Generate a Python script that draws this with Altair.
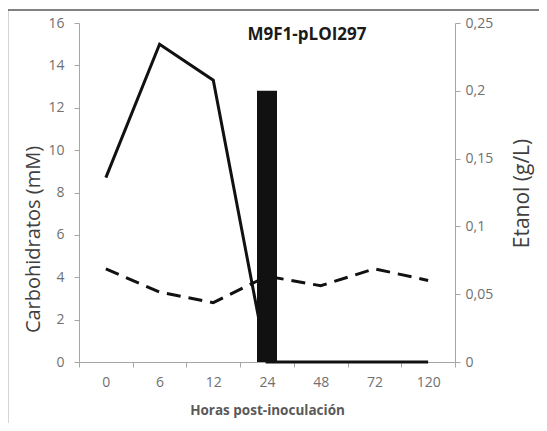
import altair as alt
import pandas as pd

# ---- data ----
horas = ["0", "6", "12", "24", "48", "72", "120"]
carb_solida = [8.7, 15.0, 13.3, 0, 0, 0, 0]
carb_discontinua = [4.4, 3.3, 2.8, 4.05, 3.6, 4.4, 3.85]
etanol = [0, 0, 0, 0.2, 0, 0, 0]
left_ticks = [0, 2, 4, 6, 8, 10, 12, 14, 16]
right_ticks = [0, 0.05, 0.1, 0.15, 0.2, 0.25]
titulo = "M9F1-pLOI297"

df = pd.DataFrame({"hora": horas, "solida": carb_solida,
                   "disc": carb_discontinua, "etanol": etanol})
one = pd.DataFrame({"k": [0]})

FONT = "Open Sans"
AX = "#a6a6a6"
LAB = "#707070"
TIT = "#404040"
W, H = 376, 339

x_enc = alt.X(
    "hora:N", sort=horas,
    scale=alt.Scale(paddingInner=0, paddingOuter=0),
    axis=alt.Axis(title="Horas post-inoculación", labelAngle=0, tickBand="extent",
                  domainColor=AX, tickColor=AX, tickSize=5, labelPadding=8,
                  labelColor=LAB, labelFont=FONT, labelFontSize=14,
                  titleFont=FONT, titleFontSize=13.5, titleFontWeight="bold",
                  titleColor="#595959", titleY=48, titleBaseline="middle"),
)

left_axis = alt.Axis(orient="left", values=left_ticks, grid=False, tickSize=5,
                     domainColor=AX, tickColor=AX, labelPadding=10,
                     labelColor=LAB, labelFont=FONT, labelFontSize=14,
                     title="Carbohidratos (mM)", titleFont=FONT, titleFontSize=20,
                     titleFontWeight="normal", titleColor=TIT, titleAngle=270,
                     titleX=-40, titleY=216, titleAlign="center",
                     titleBaseline="alphabetic")
y_left = alt.Scale(domain=[0, 16], nice=False)

line_solid = alt.Chart(df).mark_line(color="#111111", strokeWidth=3).encode(
    x=x_enc,
    y=alt.Y("solida:Q", scale=y_left, axis=left_axis),
)
line_dash = alt.Chart(df).mark_line(color="#111111", strokeWidth=3,
                                    strokeDash=[14, 8]).encode(
    x=x_enc,
    y=alt.Y("disc:Q", scale=y_left, axis=left_axis),
)
lines = alt.layer(line_solid, line_dash)

bars = alt.Chart(df).mark_bar(size=20, color="#111111").encode(
    x=x_enc,
    y=alt.Y("etanol:Q", scale=alt.Scale(domain=[0, 0.25], nice=False),
            axis=alt.Axis(orient="right", values=right_ticks, grid=False, tickSize=5,
                          domainColor=AX, tickColor=AX, labelPadding=5,
                          labelColor=LAB, labelFont=FONT, labelFontSize=14,
                          labelExpr="replace(toString(datum.value), '.', ',')",
                          title="Etanol (g/L)", titleFont=FONT, titleFontSize=21,
                          titleFontWeight="normal", titleColor=TIT, titleAngle=270,
                          titleX=73, titleY=170, titleAlign="center",
                          titleBaseline="alphabetic")),
)

frame = alt.Chart(one).mark_rect(fillOpacity=0, stroke="#595959", strokeWidth=1.5).encode(
    x=alt.value(-71.5), x2=alt.value(1000), y=alt.value(-13), y2=alt.value(1000)
)

title = alt.Chart(one).mark_text(text=titulo, font=FONT, fontSize=17,
                                 fontWeight="bold", color="#1a1a1a",
                                 align="center", baseline="middle").encode(
    x=alt.value(228), y=alt.value(12)
)

chart = alt.layer(frame, lines, bars, title).resolve_scale(y="independent").properties(
    width=W, height=H,
    autosize=alt.AutoSizeParams(type="none"),
    padding={"left": 71, "top": 15, "right": 84, "bottom": 61},
    background="white",
).configure_view(stroke=None)

chart.save("out.html", embed_options={"renderer": "svg", "actions": False})
